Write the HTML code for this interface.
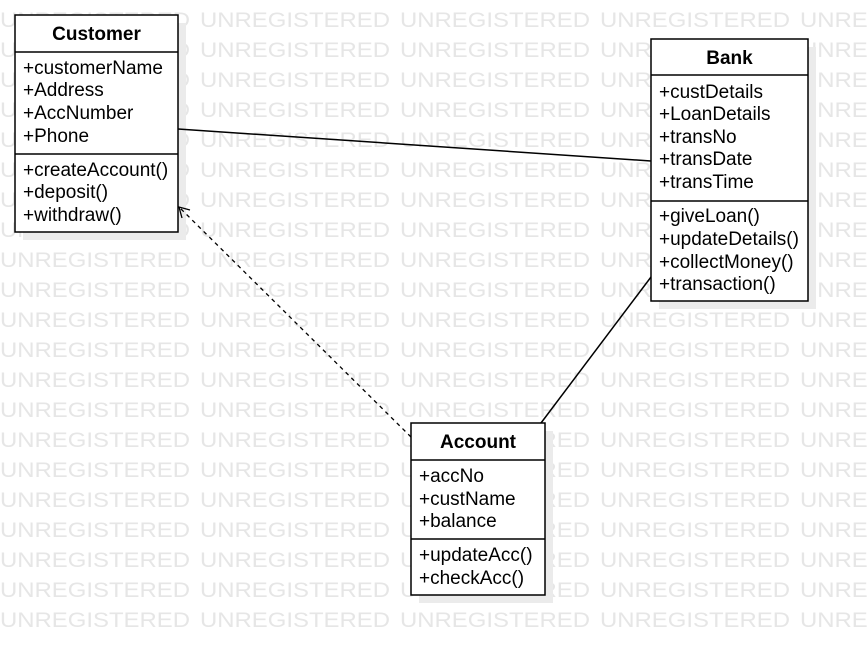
<!DOCTYPE html>
<html><head><style>
html,body{margin:0;padding:0;background:#fff;width:867px;height:655px;overflow:hidden}
svg{display:block}
text{font-family:"Liberation Sans",Arial,sans-serif}
.wm{fill:#e6e6e6;font-size:21px}
.t{font-size:19px;fill:#000}
.h{font-size:19px;font-weight:bold;fill:#000}
</style></head><body>
<svg width="867" height="655" xmlns="http://www.w3.org/2000/svg">
<g class="wm"></g>
<rect x="23" y="23" width="163" height="217" fill="#ebebeb"/>
<rect x="659" y="47" width="157" height="262" fill="#ebebeb"/>
<rect x="419" y="431" width="134" height="172" fill="#ebebeb"/>
<line x1="178" y1="129" x2="651" y2="161" stroke="#000" stroke-width="1.5"/>
<line x1="651" y1="277" x2="541" y2="423" stroke="#000" stroke-width="1.5"/>
<line x1="411" y1="437" x2="179" y2="207" stroke="#000" stroke-width="1.3" stroke-dasharray="4,4"/>
<polyline points="182,218 179,207 190,210" fill="none" stroke="#000" stroke-width="1.3"/>
<rect x="15" y="15" width="163" height="217" fill="#fff" stroke="#000" stroke-width="1.5"/>
<line x1="15" y1="52" x2="178" y2="52" stroke="#000" stroke-width="1.5"/>
<line x1="15" y1="154" x2="178" y2="154" stroke="#000" stroke-width="1.5"/>
<text class="h" x="96.5" y="40" text-anchor="middle">Customer</text>
<text class="t" x="23" y="74">+customerName</text>
<text class="t" x="23" y="96">+Address</text>
<text class="t" x="23" y="119">+AccNumber</text>
<text class="t" x="23" y="142">+Phone</text>
<text class="t" x="23" y="176">+createAccount()</text>
<text class="t" x="23" y="198">+deposit()</text>
<text class="t" x="23" y="221">+withdraw()</text>
<rect x="651" y="39" width="157" height="262" fill="#fff" stroke="#000" stroke-width="1.5"/>
<line x1="651" y1="75" x2="808" y2="75" stroke="#000" stroke-width="1.5"/>
<line x1="651" y1="201" x2="808" y2="201" stroke="#000" stroke-width="1.5"/>
<text class="h" x="729.5" y="64" text-anchor="middle">Bank</text>
<text class="t" x="659" y="98">+custDetails</text>
<text class="t" x="659" y="120">+LoanDetails</text>
<text class="t" x="659" y="143">+transNo</text>
<text class="t" x="659" y="165">+transDate</text>
<text class="t" x="659" y="188">+transTime</text>
<text class="t" x="659" y="222">+giveLoan()</text>
<text class="t" x="659" y="245">+updateDetails()</text>
<text class="t" x="659" y="268">+collectMoney()</text>
<text class="t" x="659" y="290">+transaction()</text>
<rect x="411" y="423" width="134" height="172" fill="#fff" stroke="#000" stroke-width="1.5"/>
<line x1="411" y1="460" x2="545" y2="460" stroke="#000" stroke-width="1.5"/>
<line x1="411" y1="539" x2="545" y2="539" stroke="#000" stroke-width="1.5"/>
<text class="h" x="478" y="448" text-anchor="middle">Account</text>
<text class="t" x="419" y="482">+accNo</text>
<text class="t" x="419" y="505">+custName</text>
<text class="t" x="419" y="527">+balance</text>
<text class="t" x="419" y="561">+updateAcc()</text>
<text class="t" x="419" y="584">+checkAcc()</text>
</svg>
<script>
(function(){
var ns="http://www.w3.org/2000/svg";
var g=document.querySelector('.wm');
for(var r=0;r<21;r++){
 for(var c=0;c<5;c++){var s=document.createElementNS(ns,'text');s.setAttribute('x',200*c);s.setAttribute('y',27+30*r);s.setAttribute('textLength','190');s.setAttribute('lengthAdjust','spacingAndGlyphs');s.textContent='UNREGISTERED';g.appendChild(s);}
}
})();
</script>
</body></html>
